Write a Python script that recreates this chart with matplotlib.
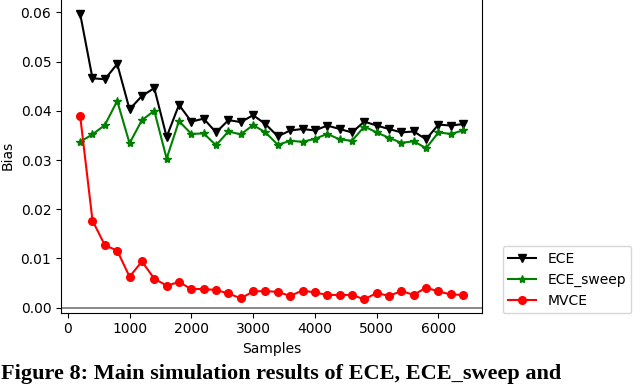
import numpy as np
import matplotlib
matplotlib.use('Agg')
import matplotlib.pyplot as plt

# Sample sizes (x axis)
samples = list(range(200, 6600, 200))

# Bias values
ece = [0.0597, 0.0466, 0.0464, 0.0495, 0.0403, 0.0430, 0.0446, 0.0347,
       0.0412, 0.0378, 0.0384, 0.0356, 0.0381, 0.0377, 0.0391, 0.0373,
       0.0348, 0.0360, 0.0363, 0.0360, 0.0370, 0.0363, 0.0356, 0.0378,
       0.0370, 0.0363, 0.0356, 0.0358, 0.0342, 0.0372, 0.0370, 0.0373]
ece_sweep = [0.0337, 0.0352, 0.0371, 0.0420, 0.0334, 0.0381, 0.0400, 0.0303,
             0.0379, 0.0353, 0.0354, 0.0330, 0.0358, 0.0352, 0.0371, 0.0356,
             0.0331, 0.0339, 0.0337, 0.0343, 0.0353, 0.0342, 0.0339, 0.0368,
             0.0356, 0.0345, 0.0335, 0.0338, 0.0324, 0.0356, 0.0353, 0.0360]
mvce = [0.0390, 0.0177, 0.0127, 0.0116, 0.0063, 0.0094, 0.0059, 0.0045,
        0.0052, 0.0038, 0.0038, 0.0036, 0.0029, 0.0019, 0.0033, 0.0034,
        0.0032, 0.0024, 0.0035, 0.0031, 0.0026, 0.0026, 0.0026, 0.0017,
        0.0030, 0.0024, 0.0034, 0.0026, 0.0041, 0.0033, 0.0027, 0.0026]

# Caption under the chart (cut by the page crop in the original)
caption = 'Figure 8: Main simulation results of ECE, ECE_sweep and'

fig = plt.figure(figsize=(6.4, 3.86), dpi=100)
ax = fig.add_axes([0.0953, 0.190, 0.6583, 0.8126])

ax.axhline(0, color='gray', lw=1.3)
ax.plot(samples, ece, color='black', marker='v', markersize=6, label='ECE')
ax.plot(samples, ece_sweep, color='green', marker='*', markersize=6,
        label='ECE_sweep')
ax.plot(samples, mvce, color='red', marker='o', markersize=5.5, label='MVCE')

ax.set_xlim(-110, 6710)
ax.set_ylim(-0.001, 0.0627)
ax.set_yticks([0.0, 0.01, 0.02, 0.03, 0.04, 0.05, 0.06])
ax.set_xticks([0, 1000, 2000, 3000, 4000, 5000, 6000])
ax.set_xlabel('Samples')
ax.set_ylabel('Bias')

fig.legend(loc='lower left', bbox_to_anchor=(0.7855, 0.1883),
           borderaxespad=0)

fig.text(0.002, 1.5 / 386, caption, family='Liberation Serif',
         weight='bold', fontsize=16, va='bottom', ha='left')

fig.savefig('out.png', dpi=100)
